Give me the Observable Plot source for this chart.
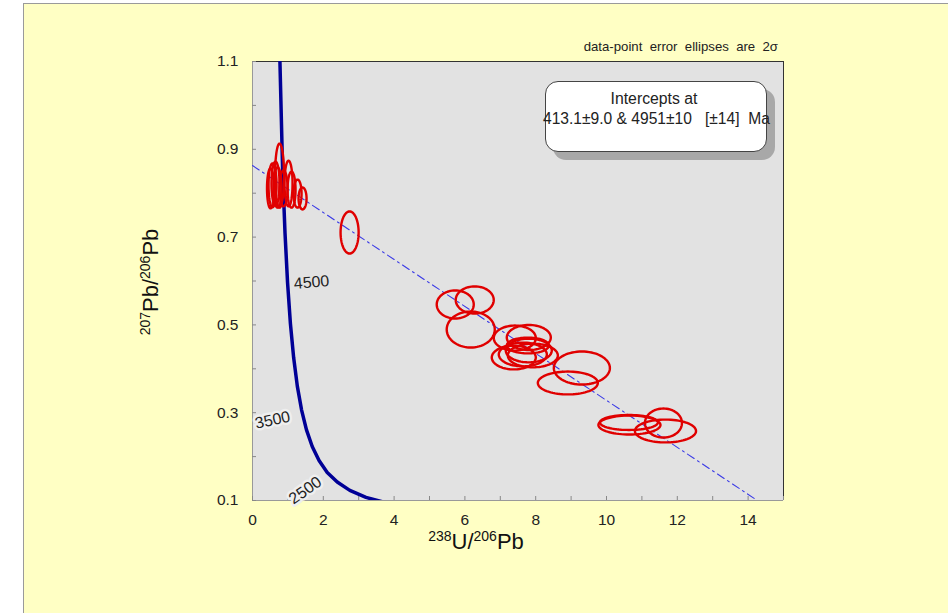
<!DOCTYPE html>
<html>
<head>
<meta charset="utf-8">
<script src="https://cdn.jsdelivr.net/npm/d3@7"></script>
<script src="https://cdn.jsdelivr.net/npm/@observablehq/plot@0.6"></script>
<style>
  html, body { margin: 0; padding: 0; background: #ffffff; }
  #wrap { position: relative; width: 948px; height: 613px; overflow: hidden; font-family: 'Liberation Sans', Arial, sans-serif; }
  #page { position: absolute; left: 23px; top: 3px; width: 930px; height: 615px; background: #ffffc4; border-left: 1px solid #9a9a9a; border-top: 1px solid #9a9a9a; }
  #chart { position: absolute; left: 0; top: 0; }
  .note { position: absolute; right: 170px; top: 39px; font-size: 13.2px; color: #222; white-space: nowrap; }
  .shadow { position: absolute; left: 553px; top: 89px; width: 222px; height: 71px; background: #a8a8a8; border-radius: 13px; }
  .box { position: absolute; left: 545px; top: 81px; width: 220px; height: 69px; background: #fff; border: 1px solid #444; border-radius: 13px; }
  .box .l1 { position: absolute; left: 0; width: 216px; top: 8px; text-align: center; font-size: 15.8px; color: #222; }
  .box .l2 { position: absolute; left: -3px; top: 28px; font-size: 15.6px; color: #222; white-space: pre; }
  .xtitle { position: absolute; left: 376px; width: 200px; top: 529px; text-align: center; font-size: 22px; color: #111; white-space: nowrap; }
  .ytitle { position: absolute; left: 50px; width: 200px; top: 270px; text-align: center; font-size: 22px; color: #111; white-space: nowrap; transform: rotate(-90deg); transform-origin: 100px 12px; }
  sup { font-size: 14px; vertical-align: 8px; line-height: 0; }
</style>
</head>
<body>
<div id="wrap">
  <div id="page"></div>
  <div id="chart"></div>
  <div class="note">data-point&nbsp; error&nbsp; ellipses&nbsp; are&nbsp; 2σ</div>
  <div class="shadow"></div>
  <div class="box"><div class="l1">Intercepts at</div><div class="l2">413.1±9.0 &amp; 4951±10   [±14]  Ma</div></div>
  <div class="xtitle"><sup>238</sup>U/<sup>206</sup>Pb</div>
  <div class="ytitle"><sup>207</sup>Pb/<sup>206</sup>Pb</div>
</div>
<script>
// ---- data ----
// Tera-Wasserburg concordia (age Ma, 238U/206Pb, 207Pb/206Pb)
const concAge = [5500, 5000, 4750, 4500, 4250, 4000, 3750, 3500, 3250, 3000, 2750, 2500, 2250, 2000, 1750, 1500];
const concX   = [0.742, 0.853, 0.918, 0.990, 1.071, 1.163, 1.267, 1.387, 1.525, 1.687, 1.880, 2.111, 2.394, 2.749, 3.206, 3.817];
const concY   = [1.207, 0.845, 0.710, 0.597, 0.503, 0.425, 0.360, 0.306, 0.261, 0.223, 0.191, 0.164, 0.142, 0.123, 0.107, 0.094];
const concLabels = [4500, 3500, 2500];

// Discordia (regression) line end points
const discX = [0, 14.3];
const discY = [0.863, 0.098];

// Error ellipses: centre and 2-sigma half axes
const ellX  = [0.509, 0.566, 0.650, 0.707, 0.764, 0.877, 1.018, 1.103, 1.273, 1.414, 2.743, 5.727, 6.278, 6.165, 7.410, 7.805, 7.777, 7.381, 7.636, 7.919, 7.805, 9.304, 8.908, 10.648, 10.633, 11.609, 11.666];
const ellY  = [0.811, 0.818, 0.822, 0.813, 0.840, 0.811, 0.822, 0.808, 0.799, 0.788, 0.7105, 0.5465, 0.5567, 0.4895, 0.470, 0.4713, 0.4531, 0.4257, 0.4326, 0.4303, 0.4417, 0.4018, 0.3677, 0.272, 0.2777, 0.2765, 0.2583];
const ellSx = [0.099, 0.113, 0.113, 0.113, 0.127, 0.113, 0.113, 0.113, 0.113, 0.113, 0.255, 0.523, 0.537, 0.679, 0.594, 0.622, 0.594, 0.622, 0.679, 0.707, 0.650, 0.792, 0.848, 0.877, 0.820, 0.523, 0.863];
const ellSy = [0.0456, 0.050, 0.050, 0.046, 0.073, 0.041, 0.052, 0.041, 0.032, 0.025, 0.048, 0.032, 0.031, 0.041, 0.0285, 0.0285, 0.018, 0.027, 0.027, 0.027, 0.027, 0.0376, 0.026, 0.0216, 0.017, 0.033, 0.026];

// Axis ticks
const xTickLabels = [0, 2, 4, 6, 8, 10, 12, 14];
const xMinorTicks = [0, 1, 2, 3, 4, 5, 6, 7, 8, 9, 10, 11, 12, 13, 14, 15];
const yTickLabels = [0.1, 0.3, 0.5, 0.7, 0.9, 1.1];
const yMinorTicks = [0.1, 0.2, 0.3, 0.4, 0.5, 0.6, 0.7, 0.8, 0.9, 1.0, 1.1];

// ---- build tables ----
const concordia = concAge.map((a, i) => ({age: a, x: concX[i], y: concY[i]}));
const discordia = discX.map((x, i) => ({x, y: discY[i]}));
const N = 72;
const ellipsePts = [];
ellX.forEach((cx, i) => {
  for (let k = 0; k < N; k++) {
    const t = (2 * Math.PI * k) / N;
    ellipsePts.push({id: i, x: cx + ellSx[i] * Math.cos(t), y: ellY[i] + ellSy[i] * Math.sin(t)});
  }
});
const lab = age => concordia.filter(d => d.age === age);

const W = 948, H = 613;
const chart = Plot.plot({
  width: W, height: H,
  marginLeft: 252, marginRight: 165, marginTop: 61, marginBottom: 113,
  style: {background: "transparent", fontSize: "15.5px", fontFamily: "'Liberation Sans', Arial, sans-serif", color: "#222"},
  x: {domain: [0, 15], ticks: xTickLabels, tickSize: 0, tickPadding: 13, tickFormat: d => String(d), label: null},
  y: {domain: [0.1, 1.1], ticks: yTickLabels, tickSize: 0, tickPadding: 14, tickFormat: d3.format(".1f"), label: null},
  marks: [
    Plot.frame({fill: "#e2e2e2", stroke: null}),
    Plot.ruleX([0], {stroke: "#999"}),
    Plot.ruleY([0.1], {stroke: "#999"}),
    Plot.ruleX([15], {stroke: "#333"}),
    Plot.ruleY([1.1], {stroke: "#333"}),
    Plot.tickX(xMinorTicks, {x: d => d, insetTop: 435, stroke: "#888"}),
    Plot.tickY(yMinorTicks, {y: d => d, insetRight: 527, stroke: "#888"}),
    Plot.line(discordia, {x: "x", y: "y", stroke: "#3a3ae6", strokeWidth: 1.1, strokeDasharray: "8,4,2,4", clip: true}),
    Plot.line(concordia, {x: "x", y: "y", stroke: "#000096", strokeWidth: 3.5, clip: true}),
    Plot.line(ellipsePts, {x: "x", y: "y", z: "id", stroke: "#e00000", strokeWidth: 2.4, curve: "linear-closed", clip: true}),
    Plot.text(lab(4500), {x: "x", y: "y", text: d => String(d.age), dx: 24, dy: 0, rotate: -5, fontSize: 16, fill: "#222"}),
    Plot.text(lab(3500), {x: "x", y: "y", text: d => String(d.age), dx: -29, dy: 10, rotate: -12, fontSize: 16, fill: "#222", stroke: "#efefef", strokeWidth: 5, paintOrder: "stroke"}),
    Plot.text(lab(2500), {x: "x", y: "y", text: d => String(d.age), dx: -22, dy: 18, rotate: -35, fontSize: 16, fill: "#222", stroke: "#efefef", strokeWidth: 5, paintOrder: "stroke"})
  ]
});
document.getElementById("chart").appendChild(chart);
</script>
</body>
</html>
